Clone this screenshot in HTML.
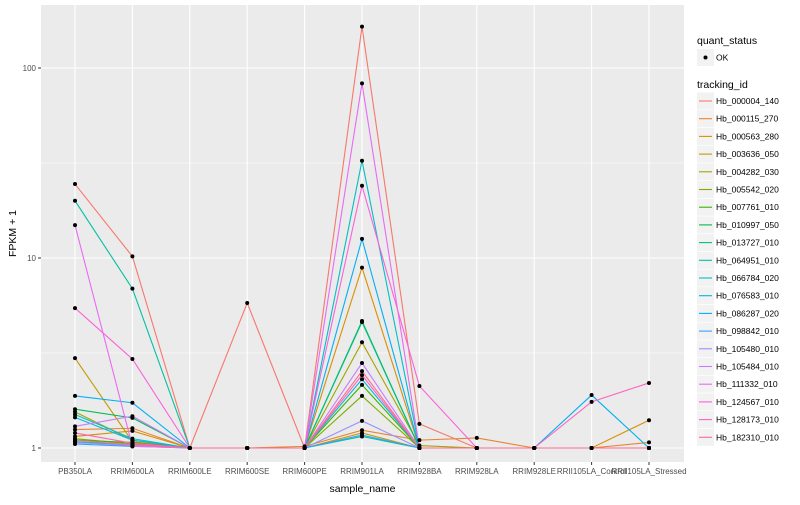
<!DOCTYPE html>
<html><head><meta charset="utf-8"><style>
body{margin:0;background:#fff;font-family:"Liberation Sans",sans-serif}
svg text{font-family:"Liberation Sans",sans-serif}
</style></head><body>
<svg id="c" width="800" height="500" xmlns="http://www.w3.org/2000/svg"></svg>
<script>
const categories=["PB350LA","RRIM600LA","RRIM600LE","RRIM600SE","RRIM600PE","RRIM901LA","RRIM928BA","RRIM928LA","RRIM928LE","RRII105LA_Control","RRII105LA_Stressed"];
const seriesNames=["Hb_000004_140","Hb_000115_270","Hb_000563_280","Hb_003636_050","Hb_004282_030","Hb_005542_020","Hb_007761_010","Hb_010997_050","Hb_013727_010","Hb_064951_010","Hb_066784_020","Hb_076583_010","Hb_086287_020","Hb_098842_010","Hb_105480_010","Hb_105484_010","Hb_111332_010","Hb_124567_010","Hb_128173_010","Hb_182310_010"];
const colors=["#F8766D","#EA8331","#D89000","#C09B00","#A3A500","#7CAE00","#39B600","#00BB4E","#00BF7D","#00C1A3","#00BFC4","#00BAE0","#00B0F6","#35A2FF","#9590FF","#C77CFF","#E76BF3","#FA62DB","#FF62BC","#FF6C91"];
const s0=[24.5,10.2,1,5.8,1,165,1.34,1,1,1,1];
const s1=[1.25,1.27,1,1,1.02,1.24,1.1,1.13,1,1,1.07];
const s2=[1.15,1.23,1,1,1,8.9,1,1,1,1,1.4];
const s3=[2.97,1.08,1,1,1,1.2,1,1,1,1,1];
const s4=[1.55,1.1,1,1,1,3.6,1.03,1,1,1,1];
const s5=[1.12,1.05,1,1,1,1.88,1,1,1,1,1];
const s6=[1.1,1.07,1,1,1,2.15,1,1,1,1,1];
const s7=[1.6,1.44,1,1,1,4.66,1,1,1,1,1];
const s8=[1.08,1.04,1,1,1,4.6,1,1,1,1,1];
const s9=[20,6.9,1,1,1,1.15,1,1,1,1,1];
const s10=[1.5,1.12,1,1,1,32.5,1,1,1,1,1];
const s11=[1.45,1.1,1,1,1,2.3,1,1,1,1,1];
const s12=[1.88,1.73,1,1,1,12.6,1,1,1,1.9,1];
const s13=[1.05,1.02,1,1,1,1.17,1,1,1,1,1];
const s14=[1.07,1.03,1,1,1,1.39,1,1,1,1,1];
const s15=[1.3,1.47,1,1,1,2.8,1,1,1,1,1];
const s16=[14.9,1.02,1,1,1,83,1,1,1,1,1];
const s17=[5.45,2.94,1,1,1,24,2.12,1,1,1,1];
const s18=[1.2,1.06,1,1,1,2.42,1,1,1,1.75,2.2];
const s19=[1.1,1.04,1,1,1,2.54,1,1,1,1,1];
const series=[s0,s1,s2,s3,s4,s5,s6,s7,s8,s9,s10,s11,s12,s13,s14,s15,s16,s17,s18,s19];
const yTicks=[1,10,100];
const yTickLabels=["1","10","100"];

const svg=document.getElementById('c');const NS="http://www.w3.org/2000/svg";
function mk(t,a,p){const e=document.createElementNS(NS,t);for(const k in a)e.setAttribute(k,a[k]);(p||svg).appendChild(e);return e;}
const L=41,R=684,T=5,B=462;
const x=i=>75+i*57.4;
const y=v=>448-190*Math.log10(v);
const bg=mk('rect',{x:L,y:T,width:R-L,height:B-T,fill:'#EBEBEB'});


[-0.5,0.5,1.5].forEach(e=>{const yy=y(Math.pow(10,e));if(yy>T&&yy<B){const g=mk('line',{x1:L,x2:R,y1:yy,y2:yy,stroke:'#fff','stroke-width':0.5});}});
yTicks.forEach((v,i)=>{const yy=y(v);const g=mk('line',{x1:L,x2:R,y1:yy,y2:yy,stroke:'#fff','stroke-width':1.1});

mk('line',{x1:L-3,x2:L,y1:yy,y2:yy,stroke:'#333'});
const t=mk('text',{x:L-5,y:yy+3,'text-anchor':'end','font-size':8,fill:'#4d4d4d'});t.textContent=yTickLabels[i];
});
categories.forEach((c,i)=>{const g=mk('line',{x1:x(i),x2:x(i),y1:T,y2:B,stroke:'#fff','stroke-width':1.1});

mk('line',{x1:x(i),x2:x(i),y1:B,y2:B+3,stroke:'#333'});
const t=mk('text',{x:x(i),y:B+12,'text-anchor':'middle','font-size':8,fill:'#4d4d4d'});t.textContent=c;
});
series.forEach((s,k)=>{const p=mk('polyline',{points:s.map((v,i)=>x(i)+','+y(v)).join(' '),fill:'none',stroke:colors[k],'stroke-width':1.1});
});
series.forEach((s,k)=>{s.forEach((v,i)=>{const d=mk('circle',{cx:x(i),cy:y(v),r:2,fill:'#000'});
});});
let t=mk('text',{x:(L+R)/2,y:492,'text-anchor':'middle','font-size':10.5,fill:'#000'});t.textContent='sample_name';

t=mk('text',{x:16,y:(T+B)/2,'text-anchor':'middle','font-size':10.5,fill:'#000',transform:`rotate(-90 16 ${(T+B)/2})`});t.textContent='FPKM + 1';

t=mk('text',{x:697,y:44,'font-size':10.5,fill:'#000'});t.textContent='quant_status';

mk('rect',{x:697,y:49,width:17,height:17,fill:'#F2F2F2'});
mk('circle',{cx:705.5,cy:57.5,r:2,fill:'#000'});
t=mk('text',{x:716,y:60.5,'font-size':8.5,fill:'#000'});t.textContent='OK';

t=mk('text',{x:697,y:88,'font-size':10.5,fill:'#000'});t.textContent='tracking_id';

seriesNames.forEach((n,k)=>{const yy=101+k*17.7;
mk('rect',{x:697,y:yy-8.5,width:17,height:17,fill:'#F2F2F2'});
mk('line',{x1:699,x2:712,y1:yy,y2:yy,stroke:colors[k],'stroke-width':1.1});
const tt=mk('text',{x:716,y:yy+3,'font-size':8.5,fill:'#000'});tt.textContent=n;
});
</script>
</body></html>
